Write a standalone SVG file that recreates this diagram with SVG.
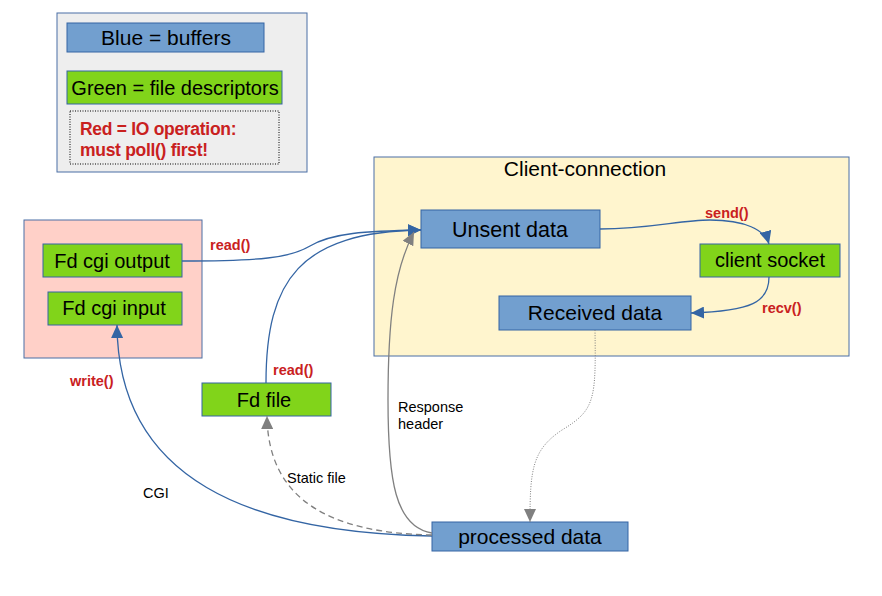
<svg xmlns="http://www.w3.org/2000/svg" width="882" height="596" viewBox="0 0 882 596">
<defs>
<style>
.buf{fill:#729fcf;stroke:#3465a4;stroke-width:1}
.fd{fill:#81d41a;stroke:#3465a4;stroke-width:1}
.t{font-family:"Liberation Sans",Arial,sans-serif;font-size:20px;fill:#000;text-anchor:middle}
.op{font-family:"Liberation Sans",Arial,sans-serif;font-size:14.5px;font-weight:bold;fill:#c9211e}
.lbl{font-family:"Liberation Sans",Arial,sans-serif;font-size:14.5px;fill:#000}
.cb{fill:none;stroke:#3465a4;stroke-width:1.3}
.cg{fill:none;stroke:#808080;stroke-width:1.3}
</style>
<marker id="ab" markerUnits="userSpaceOnUse" markerWidth="14" markerHeight="12" refX="13" refY="6" orient="auto"><path d="M0,0 L13,6 L0,12 z" fill="#3465a4"/></marker>
<marker id="ag" markerUnits="userSpaceOnUse" markerWidth="14" markerHeight="12" refX="13" refY="6" orient="auto"><path d="M0,0 L13,6 L0,12 z" fill="#808080"/></marker>
</defs>
<rect x="0" y="0" width="882" height="596" fill="#fff"/>

<g id="legend">
<rect x="57" y="13" width="250" height="159" fill="#eeeeee" stroke="#4a6fa5" stroke-width="1"/>
<rect class="buf" x="67" y="23" width="197" height="29"/>
<text class="t" style="font-size:21px" x="166" y="45">Blue = buffers</text>
<rect class="fd" x="67" y="71" width="215" height="33"/>
<text class="t" style="font-size:20px" x="175" y="95">Green = file descriptors</text>
<rect x="70" y="111" width="209" height="53" fill="#eeeeee" stroke="#000" stroke-width="1" stroke-dasharray="1,1.5"/>
<text class="op" style="font-size:17.5px;letter-spacing:-0.3px" x="80" y="135">Red = IO operation:</text>
<text class="op" style="font-size:17.5px;letter-spacing:-0.3px" x="80" y="156">must poll() first!</text>
</g>

<g id="cgi-process">
<rect x="24" y="220" width="178" height="138" fill="#ffd0c8" stroke="#4a6fa5" stroke-width="1"/>
</g>
<g id="fd-cgi-output">
<rect class="fd" x="43" y="244" width="139" height="33"/>
<text class="t" x="112" y="268">Fd cgi output</text>
</g>
<g id="fd-cgi-input">
<rect class="fd" x="48" y="292" width="134" height="33"/>
<text class="t" x="114" y="315">Fd cgi input</text>
</g>

<g id="client-connection">
<rect x="374" y="157" width="475" height="199" fill="#fff5ce" stroke="#4a6fa5" stroke-width="1"/>
<text class="t" style="font-size:21px" x="585" y="176">Client-connection</text>
</g>
<g id="unsent-data">
<rect class="buf" x="421" y="210" width="179" height="38"/>
<text class="t" style="font-size:21.5px" x="510" y="237">Unsent data</text>
</g>
<g id="client-socket">
<rect class="fd" x="700" y="244" width="140" height="33"/>
<text class="t" x="770" y="267">client socket</text>
</g>
<g id="received-data">
<rect class="buf" x="499" y="296" width="192" height="34"/>
<text class="t" style="font-size:21px" x="595" y="320">Received data</text>
</g>
<g id="fd-file">
<rect class="fd" x="202" y="383" width="129" height="33"/>
<text class="t" x="264" y="407">Fd file</text>
</g>
<g id="processed-data">
<rect class="buf" x="432" y="522" width="196" height="29"/>
<text class="t" style="font-size:21px" x="530" y="544">processed data</text>
</g>

<g id="connectors">
<path class="cb" d="M182,261 C260,261 290,258 310,246 C332,233 365,231 421,230" marker-end="url(#ab)"/>
<path class="cb" d="M266,383 C266,280 300,232 421,230" marker-end="url(#ab)"/>
<path class="cg" d="M432,533 C395,527 388,480 388,400 C388,320 394,270 414,232" marker-end="url(#ag)"/>
<path class="cb" d="M432,536 C250,533 118,480 117,325" marker-end="url(#ab)"/>
<path class="cg" d="M432,535 C330,533 268,500 267,416" stroke-dasharray="6,4" marker-end="url(#ag)"/>
<path class="cb" d="M600,229 C650,229 680,220 710,220 C745,220 765,230 769,244" marker-end="url(#ab)"/>
<path class="cb" d="M769,277 C769,302 752,311 691,313" marker-end="url(#ab)"/>
<path d="M595,330 C596,400 595,410 562,430 C532,450 530,470 530,522" fill="none" stroke="#808080" stroke-width="1" stroke-dasharray="1,1.5" marker-end="url(#ag)"/>
<text class="op" x="210" y="250">read()</text>
<text class="op" x="273" y="375">read()</text>
<text class="op" x="70" y="386">write()</text>
<text class="op" x="705" y="218">send()</text>
<text class="op" x="762" y="313">recv()</text>
<text class="lbl" x="143" y="498">CGI</text>
<text class="lbl" x="287" y="483">Static file</text>
<text class="lbl" x="398" y="412">Response</text>
<text class="lbl" x="398" y="429">header</text>
</g>
</svg>
